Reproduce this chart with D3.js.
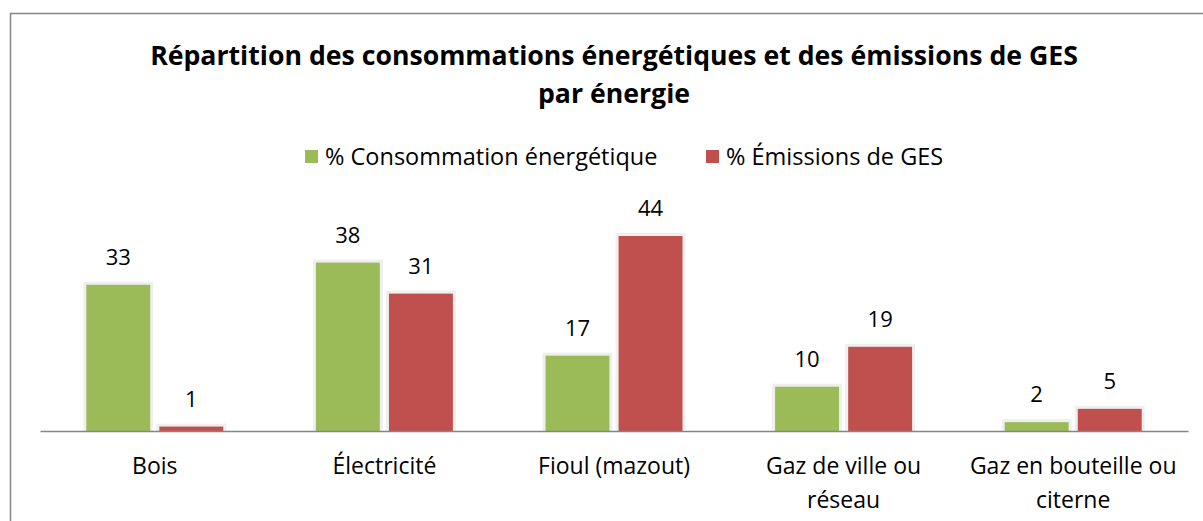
<!DOCTYPE html>
<meta charset="utf-8">
<style>
body { margin: 0; background: #fff; }
svg text { font-family: "Open Sans", sans-serif; fill: #000; }
</style>
<svg width="1203" height="521"></svg>
<script src="https://d3js.org/d3.v7.min.js"></script>
<script>
// chart data
var categories = [["Bois"], ["Électricité"], ["Fioul (mazout)"], ["Gaz de ville ou", "réseau"], ["Gaz en bouteille ou", "citerne"]];
var seriesNames = ["% Consommation énergétique", "% Émissions de GES"];
var seriesColors = ["#9bbb59", "#c0504d"];
var consommation = [33, 38, 17, 10, 2];
var emissions = [1, 31, 44, 19, 5];

var svg = d3.select("svg");

// frame
svg.append("rect")
  .attr("x", 10.5).attr("y", 13.5)
  .attr("width", 1200).attr("height", 520)
  .attr("fill", "none").attr("stroke", "#868686").attr("stroke-width", 1.5);

// title, sized to the width it has in the original
var title = svg.append("text")
  .attr("text-anchor", "middle")
  .attr("font-size", 24).attr("font-weight", "bold");
var t1 = title.append("tspan").attr("x", 614).attr("y", 65).text("Répartition des consommations énergétiques et des émissions de GES");
title.append("tspan").attr("x", 614).attr("y", 103).text("par énergie");
var w = t1.node().getComputedTextLength();
title.attr("font-size", 24 * 928 / w);

// legend
var legendX = [305, 706];
seriesNames.forEach(function (name, i) {
  svg.append("rect").attr("x", legendX[i]).attr("y", 150).attr("width", 13).attr("height", 13).attr("fill", seriesColors[i]);
  svg.append("text").attr("x", legendX[i] + 20).attr("y", 165).attr("font-size", 23.5).text(name);
});

var x0 = d3.scaleBand().domain(d3.range(categories.length)).range([40, 1188]);
var x1 = d3.scaleBand().domain([0, 1]).range([-68.5, 68.5]).paddingInner(0.125);
var y = d3.scaleLinear().domain([0, 44]).range([431, 236]);

var rows = [];
categories.forEach(function (c, i) {
  rows.push({ cat: i, s: 0, v: consommation[i] });
  rows.push({ cat: i, s: 1, v: emissions[i] });
});

var g = svg.append("g");
// soft shadow around bars
g.selectAll("rect.shadow").data(rows).enter().append("rect")
  .attr("x", function (d) { return x0(d.cat) + x0.bandwidth() / 2 + x1(d.s) - 3; })
  .attr("y", function (d) { return y(d.v) - 3; })
  .attr("width", x1.bandwidth() + 6)
  .attr("height", function (d) { return 431 - y(d.v) + 3; })
  .attr("fill", "#efefef");
g.selectAll("rect.bar").data(rows).enter().append("rect")
  .attr("x", function (d) { return x0(d.cat) + x0.bandwidth() / 2 + x1(d.s); })
  .attr("y", function (d) { return y(d.v); })
  .attr("width", x1.bandwidth())
  .attr("height", function (d) { return 431 - y(d.v); })
  .attr("fill", function (d) { return seriesColors[d.s]; });

g.selectAll("text.val").data(rows).enter().append("text")
  .attr("text-anchor", "middle").attr("font-size", 22)
  .attr("x", function (d) { return x0(d.cat) + x0.bandwidth() / 2 + x1(d.s) + x1.bandwidth() / 2; })
  .attr("y", function (d) { return y(d.v) - 20; })
  .text(function (d) { return d.v; });

// axis
var axis = svg.append("g").attr("transform", "translate(0,431)")
  .call(d3.axisBottom(x0).tickSize(0).tickFormat(""));
axis.select(".domain").attr("stroke", "#868686").attr("stroke-width", 1.5);

categories.forEach(function (lines, i) {
  var t = svg.append("text").attr("text-anchor", "middle").attr("font-size", 23);
  lines.forEach(function (l, k) {
    t.append("tspan").attr("x", x0(i) + x0.bandwidth() / 2).attr("y", 474 + k * 34).text(l);
  });
});
</script>
